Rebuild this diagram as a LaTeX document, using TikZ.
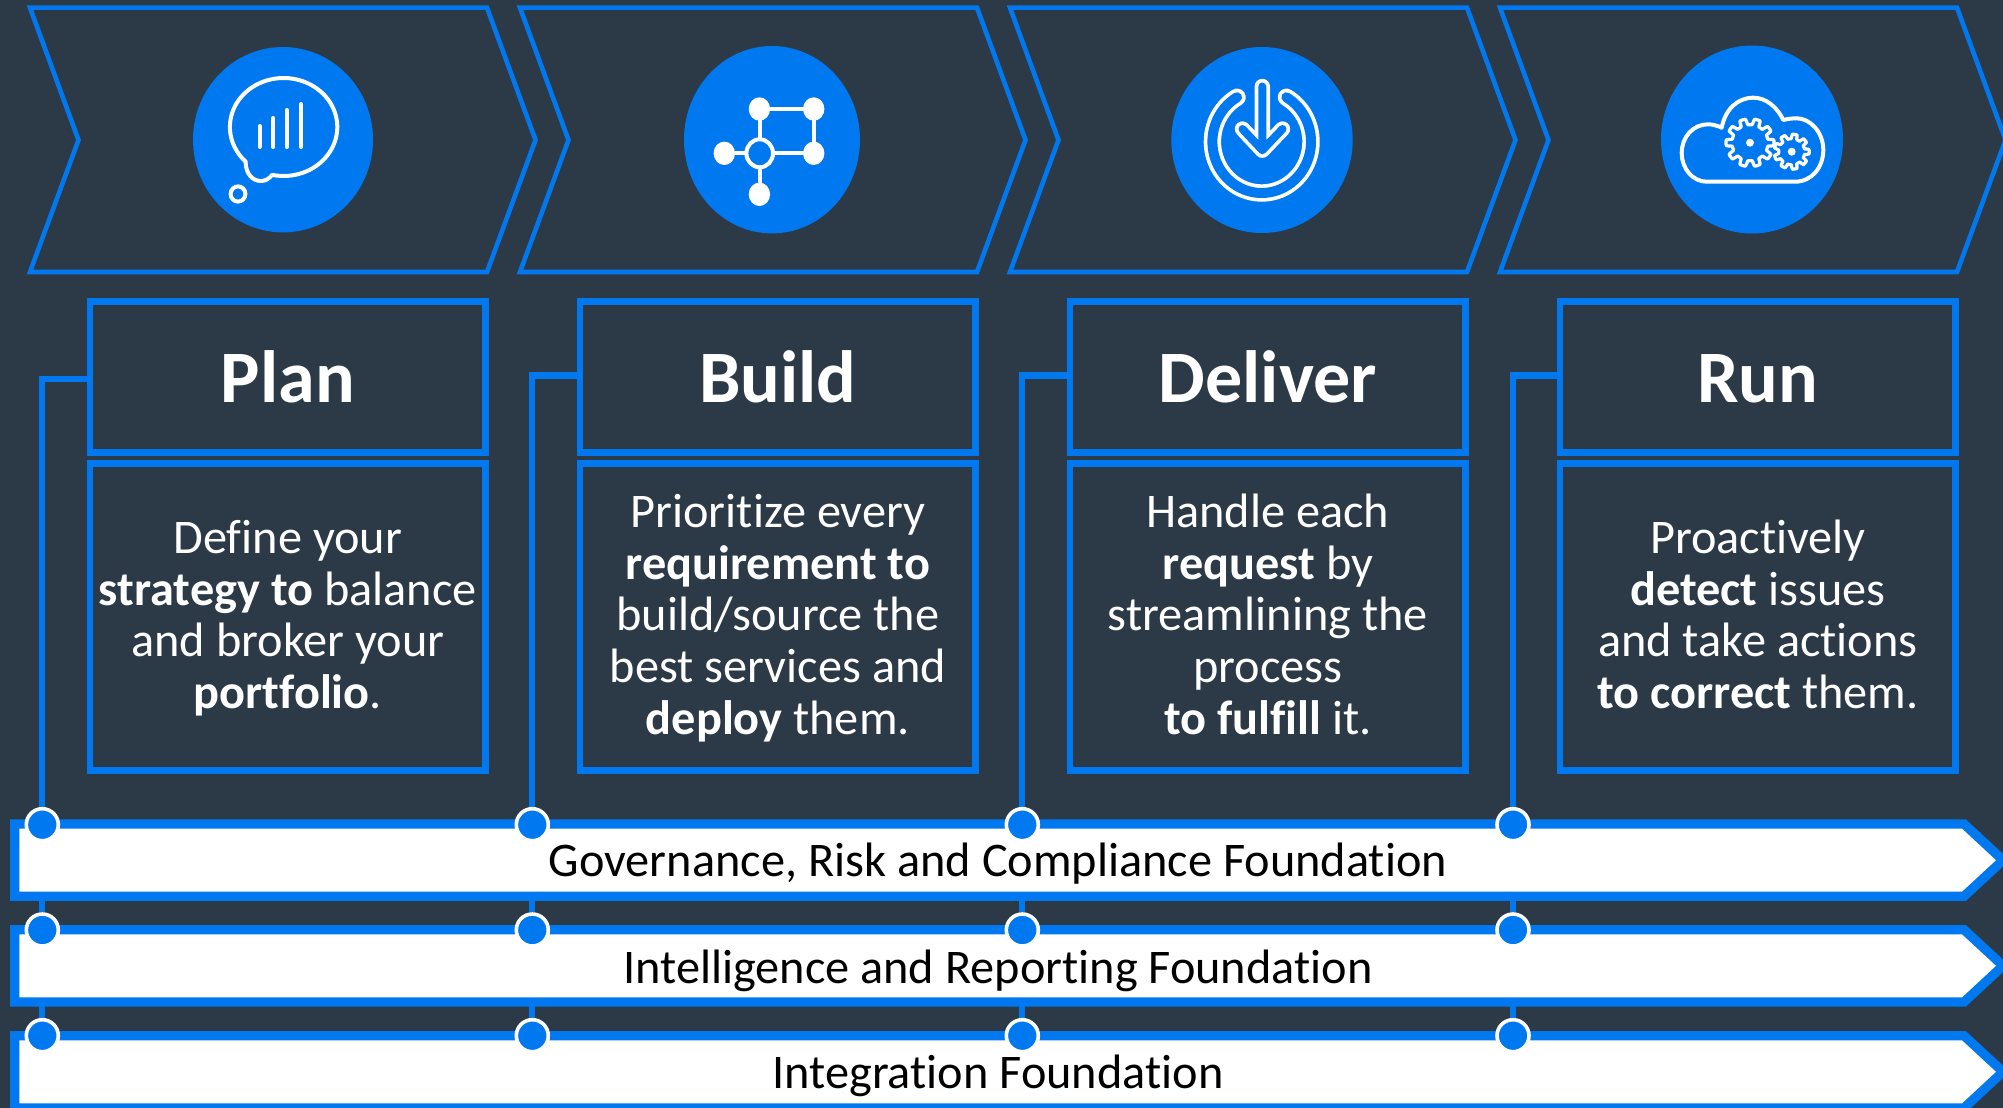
\documentclass[tikz,border=0pt]{standalone}
\usepackage{fontspec}
\setmainfont[Ligatures=NoCommon]{Carlito}
\usetikzlibrary{backgrounds}
\definecolor{bgc}{HTML}{2C3A47}
\definecolor{bluec}{HTML}{0078EF}
\newcommand{\topstrut}{\rule{0pt}{47.3pt}}
\newcommand{\botstrut}{\rule[-19.5pt]{0pt}{19.5pt}}
\newcommand{\GearShape}[5]{%
  \draw[iconline,line width=3.2] plot[domain=0:360,samples=241]
    ({#1+(#3+(#4-#3)*min(1,max(0,.5+1.5*cos(#5*\x))))*cos(\x)},
     {#2+(#3+(#4-#3)*min(1,max(0,.5+1.5*cos(#5*\x))))*sin(\x)}) -- cycle;
  \fill[white] (#1,#2) circle[radius=4];}
\tikzset{
  chevron/.style={draw=bluec,line width=4.6,fill=bgc,miter limit=20},
  iconline/.style={draw=white,line width=4,line join=round,line cap=round},
  titlebox/.style={draw=bluec,line width=6.3,fill=bgc,text=white,minimum width=395.3,minimum height=151.1,inner sep=0,text height=51,text depth=0,font=\fontsize{74}{80}\selectfont\bfseries},
  bodybox/.style={draw=bluec,line width=6.3,fill=bgc,text=white,minimum width=395.3,minimum height=306.8,inner sep=0,align=center,font=\fontsize{48.3}{51.8}\selectfont},
  barshape/.style={draw=bluec,line width=9.3,fill=white,miter limit=20},
  barlabel/.style={text=black,inner sep=0,font=\fontsize{48.3}{52}\selectfont},
  dot/.style={circle,fill=bluec,draw=white,line width=3.6,minimum size=32,inner sep=0},
  link/.style={draw=bluec,line width=6.3},
}
\begin{document}
\begin{tikzpicture}[x=1pt,y=-1pt]
\useasboundingbox (0,0) rectangle (2003,1108);
\clip (0,0) rectangle (2003,1108);
\begin{scope}[on background layer]
  \fill[bgc] (0,0) rectangle (2003,1108);
\end{scope}
% chevrons
\foreach \k in {0,490,980,1470}{
  \begin{scope}[xshift=\k]
    \draw[chevron] (30,7.7) -- (487,7.7) -- (535.5,140) -- (487,272) -- (30,272) -- (78.5,140) -- cycle;
  \end{scope}}
% discs
\fill[bluec] (283,139.7) ellipse[x radius=90,y radius=92.7];
\fill[bluec] (772,139.7) ellipse[x radius=88,y radius=93.7];
\fill[bluec] (1262,140) ellipse[x radius=90.7,y radius=93];
\fill[bluec] (1752,139.5) ellipse[x radius=91,y radius=94];
% icon 1: thought bubble with bars
\draw[iconline] plot[domain=102:-225,samples=80] ({283.6+53.7*cos(\x)},{127+49*sin(\x)})
   .. controls (245.5,173) and (252,181) .. (261,181) .. controls (265,181) and (269,179) .. (272,175);
\draw[iconline] (238,194) ellipse[x radius=7.4,y radius=7.6];
\draw[iconline] (259.6,126) -- (259.6,147);
\draw[iconline] (273.2,118) -- (273.2,147);
\draw[iconline] (286.8,110) -- (286.8,147);
\draw[iconline] (301.4,104) -- (301.4,147);
% icon 2: network
\draw[iconline] (759.5,109) -- (813.7,109) -- (813.7,153.3) -- (724.3,153.3)
   (759.5,109) -- (759.5,194.3);
\fill[white] (759.4,109) ellipse[x radius=10.7,y radius=11.7];
\fill[white] (813.7,109) ellipse[x radius=10.7,y radius=11.7];
\fill[white] (724.3,153.3) ellipse[x radius=10.7,y radius=11.7];
\fill[white] (813.7,153.3) ellipse[x radius=10.7,y radius=11.7];
\fill[white] (759.4,194.3) ellipse[x radius=10.7,y radius=11.7];
\draw[iconline,fill=bluec] (759.7,153.3) ellipse[x radius=13.3,y radius=14];
% icon 3: power + arrow
\draw[white,line width=17.4,line cap=round] plot[domain=-60:240,samples=80] ({1261.7+49.3*cos(\x)},{141.7+51.3*sin(\x)});
\draw[bluec,line width=10,line cap=round] plot[domain=-60:240,samples=80] ({1261.7+49.3*cos(\x)},{141.7+51.3*sin(\x)});
\draw[white,line width=15.4,line cap=round,line join=round] (1262.3,86.5) -- (1262.3,150.2) (1242.5,129) -- (1262.3,150.2) -- (1282.5,129);
\draw[bluec,line width=8,line cap=round,line join=round] (1262.3,86.5) -- (1262.3,150.2) (1242.5,129) -- (1262.3,150.2) -- (1282.5,129);
% icon 4: cloud with gears
\draw[iconline] (1706.7,181.7) -- (1795,181.7) .. controls (1812,181.7) and (1823.3,167) .. (1823.3,150)
  .. controls (1823.3,132) and (1810,118.3) .. (1796.7,118.3) .. controls (1792,118.3) and (1787,119) .. (1783.3,120)
  .. controls (1777,107) and (1766,97.7) .. (1753.3,97.7) .. controls (1737,97.7) and (1725,110) .. (1721.7,127.7)
  .. controls (1717,125.5) and (1712,124.3) .. (1708,124.3) .. controls (1693,124.3) and (1681.7,137) .. (1681.7,153)
  .. controls (1681.7,169) and (1693,181.7) .. (1706.7,181.7) -- cycle;
\GearShape{1750}{142.7}{18}{24}{10}
\GearShape{1791.7}{151.7}{13}{17.5}{9}
% title boxes
\node[titlebox] (h1) at (287.85,377) {Plan};
\node[titlebox] (h2) at (777.85,377) {Build};
\node[titlebox] (h3) at (1267.85,377) {Deliver};
\node[titlebox] (h4) at (1757.85,377) {Run};
% body boxes
\node[bodybox] (b1) at (287.85,617) {\topstrut Define your\\\textbf{strategy to} balance\\and broker your\\\botstrut\textbf{portfolio}.};
\node[bodybox] (b2) at (777.85,617) {\topstrut Prioritize every\\\textbf{requirement to}\\build/source the\\best services and\\\botstrut\textbf{deploy} them.};
\node[bodybox] (b3) at (1267.85,617) {\topstrut Handle each\\\textbf{request} by\\streamlining the\\process\\\botstrut\textbf{to fulfill} it.};
\node[bodybox] (b4) at (1757.85,617) {\topstrut Proactively\\\textbf{detect} issues\\and take actions\\\botstrut\textbf{to correct} them.};
% foundation bars
\draw[barshape] (14.7,824) -- (1964,824) -- (2003,860.2) -- (1964,896.3) -- (14.7,896.3) -- cycle;
\draw[barshape] (14.7,929.7) -- (1964,929.7) -- (2003,965.8) -- (1964,1002) -- (14.7,1002) -- cycle;
\draw[barshape] (14.7,1035.7) -- (1964,1035.7) -- (2003,1071.8) -- (1964,1108) -- (14.7,1108) -- cycle;
\node[barlabel] (f1) at (998,864) {Governance, Risk and Compliance Foundation};
\node[barlabel] (f2) at (998,970.8) {Intelligence and Reporting Foundation};
\node[barlabel] (f3) at (998,1076) {Integration Foundation};
% dots
\foreach \n/\x in {1/42.3,2/532.3,3/1022.3,4/1513}{
  \node[dot] (d\n a) at (\x,824.7) {};
  \node[dot] (d\n b) at (\x,930) {};
  \node[dot] (d\n c) at (\x,1035.7) {};
}
% connectors, under the bars
\begin{scope}[on background layer]
  \draw[link] ([yshift=-2]h1.west) -| (d1a);
  \draw[link] ([yshift=1.4]h2.west) -| (d2a);
  \draw[link] ([yshift=1.4]h3.west) -| (d3a);
  \draw[link] ([yshift=1.4]h4.west) -| (d4a);
  \foreach \n in {1,2,3,4}{
    \draw[link] (d\n a) -- (d\n b) -- (d\n c);
  }
\end{scope}
\end{tikzpicture}
\end{document}
